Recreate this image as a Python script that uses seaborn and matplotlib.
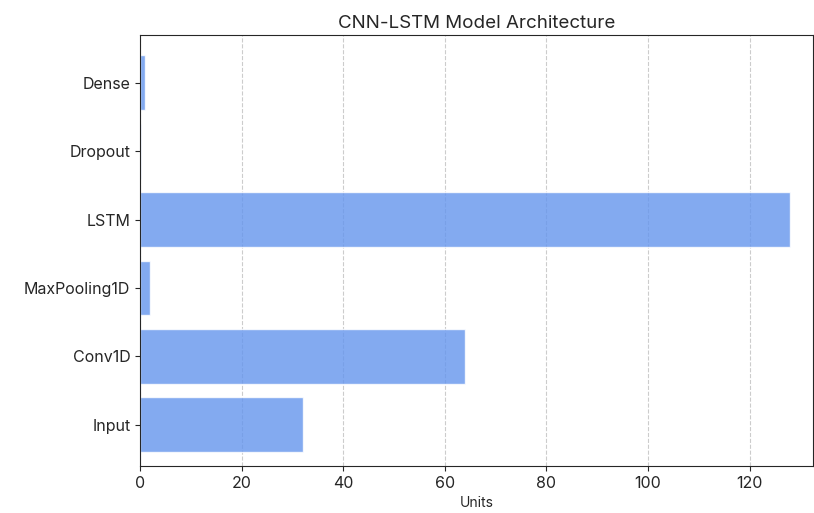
import matplotlib
matplotlib.use("Agg")
import matplotlib.pyplot as plt
import seaborn as sns
import pandas as pd

# Layers of the model and their unit counts
layers = ['Input', 'Conv1D', 'MaxPooling1D', 'LSTM', 'Dropout', 'Dense']
units = [32, 64, 2, 128, 0.2, 1]

df = pd.DataFrame({'Layer': layers, 'Units': units})

sns.set_style("ticks")
plt.rcParams['font.family'] = ['Inter', 'DejaVu Sans']

fig, ax = plt.subplots(figsize=(8.14, 5.13), dpi=100)
# reverse order so Input sits at the bottom
sns.barplot(data=df.iloc[::-1], x='Units', y='Layer', orient='h',
            color='cornflowerblue', alpha=0.8, saturation=1, width=0.8, ax=ax)

ax.set_title('CNN-LSTM Model Architecture', fontsize=13.5, pad=5)
ax.set_xlabel('Units', fontsize=10)
ax.set_ylabel('')
ax.tick_params(axis='both', labelsize=11.5)
ax.xaxis.grid(True, linestyle='--', color='#cccccc', linewidth=0.8)
ax.set_axisbelow(True)
ax.set_xlim(0, 132.5)
ax.set_ylim(5.6, -0.7)

fig.subplots_adjust(left=0.172, right=0.999, top=0.932, bottom=0.092)
fig.savefig('out.png', dpi=100)
